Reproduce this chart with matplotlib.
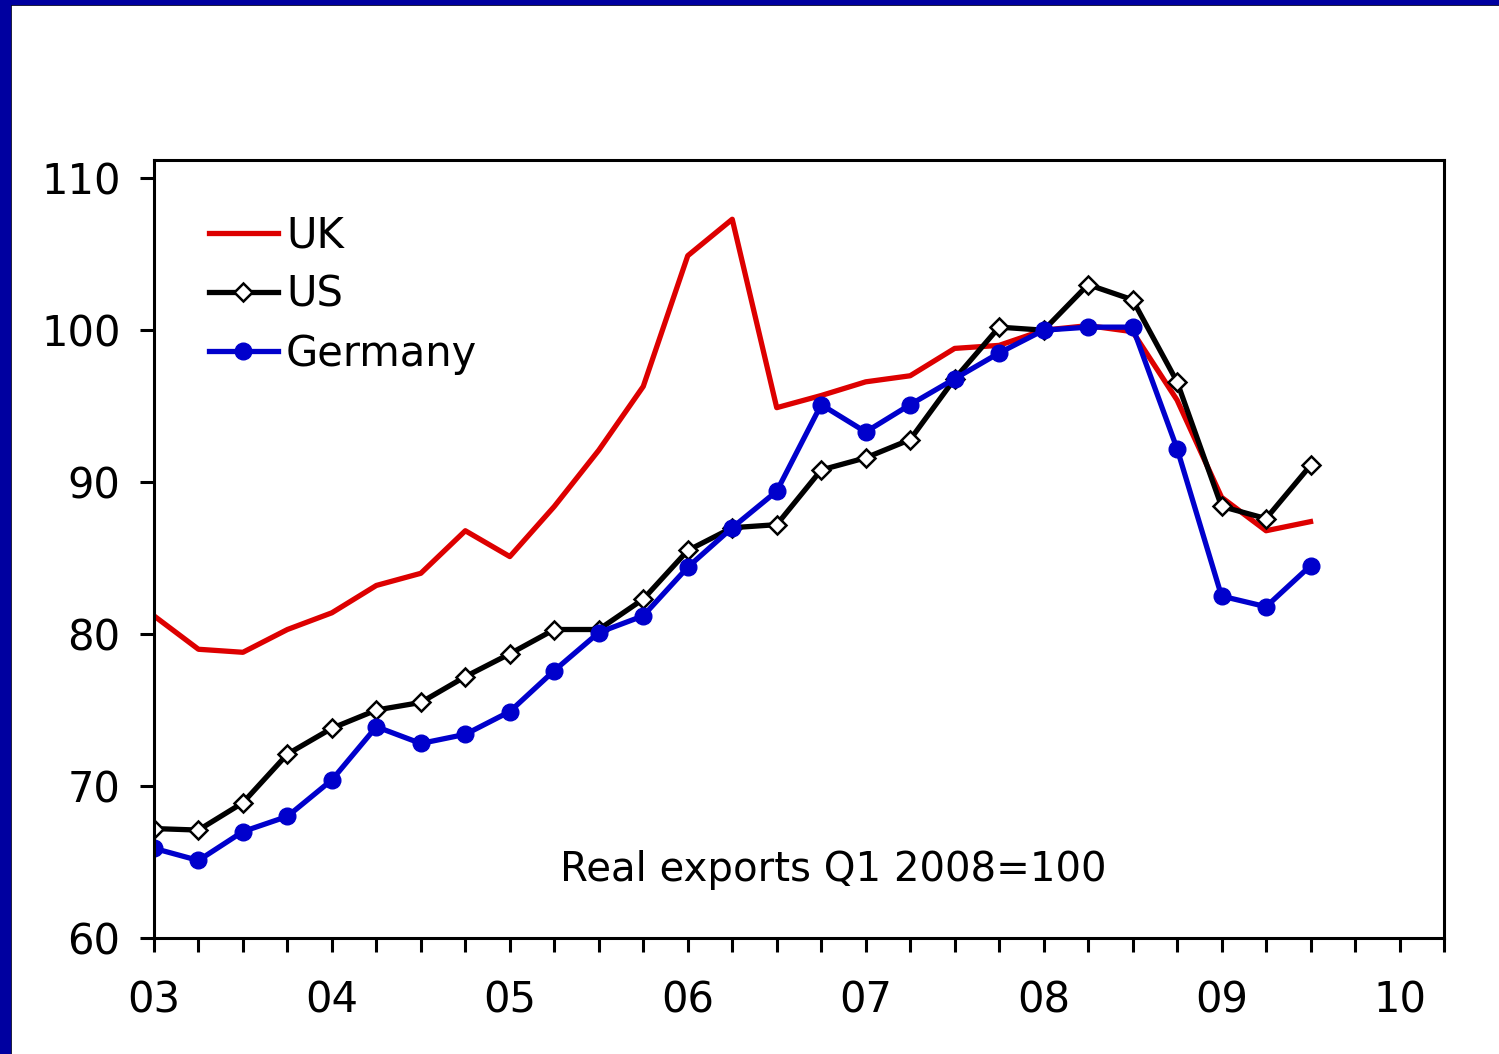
import numpy as np
import matplotlib.pyplot as plt
from matplotlib.patches import Rectangle

# quarterly index, 2003Q1 = 0
uk = [81.2, 79.0, 78.8, 80.3, 81.4, 83.2, 84.0, 86.8, 85.1, 88.4, 92.1, 96.3,
      104.9, 107.3, 94.9, 95.7, 96.6, 97.0, 98.8, 99.0, 100.0, 100.3, 99.9,
      95.4, 89.0, 86.8, 87.4]
us = [67.2, 67.1, 68.9, 72.1, 73.8, 75.0, 75.5, 77.2, 78.7, 80.3, 80.3, 82.3,
      85.5, 87.0, 87.2, 90.8, 91.6, 92.8, 96.8, 100.2, 100.0, 103.0, 102.0,
      96.6, 88.4, 87.6, 91.1]
germany = [65.9, 65.1, 67.0, 68.0, 70.4, 73.9, 72.8, 73.4, 74.9, 77.6, 80.1,
           81.2, 84.4, 87.0, 89.4, 95.1, 93.3, 95.1, 96.8, 98.5, 100.0, 100.2,
           100.2, 92.2, 82.5, 81.8, 84.5]
year_labels = ["03", "04", "05", "06", "07", "08", "09", "10"]

q = np.arange(len(uk))

fig = plt.figure(figsize=(14.99, 10.54), dpi=100)
ax = fig.add_axes([0.1027, 0.1101, 0.8606, 0.7381])

ax.plot(q, uk, color="#dd0000", lw=3.8, label="UK")
ax.plot(q, us, color="black", lw=3.8, marker="D", markersize=9,
        markerfacecolor="white", markeredgecolor="black", markeredgewidth=1.8,
        label="US")
ax.plot(q, germany, color="#0000cc", lw=3.8, marker="o", markersize=12,
        label="Germany")

ax.set_xlim(0, 29)
ax.set_ylim(60, 111.2)
ax.set_yticks(np.arange(60, 111, 10))
ax.set_xticks(np.arange(0, 30))
ax.set_xticklabels([year_labels[i // 4] if i % 4 == 0 else "" for i in range(30)])

for s in ax.spines.values():
    s.set_linewidth(2.2)
ax.tick_params(axis="both", direction="out", length=10, width=2.2,
               labelsize=30)
ax.tick_params(axis="x", pad=20)
ax.tick_params(axis="y", pad=14)

ax.legend(loc="upper left", bbox_to_anchor=(0.02, 0.967), frameon=False,
          fontsize=30, handlelength=1.65, handletextpad=0.2, labelspacing=0.41,
          borderaxespad=0.3)

ax.text(15.27, 64.5, "Real exports Q1 2008=100", fontsize=29,
        ha="center", va="center")

# slide frame
fig.patches.append(Rectangle((0, 0), 10 / 1499, 1, transform=fig.transFigure,
                             color="#0000a0", zorder=10))
fig.patches.append(Rectangle((0, 1 - 4 / 1054), 1, 4 / 1054,
                             transform=fig.transFigure, color="#0000a0", zorder=10))
fig.add_artist(plt.Line2D([11 / 1499, 11 / 1499], [0, 1 - 5 / 1054],
                          transform=fig.transFigure, color="black", lw=1.2))
fig.add_artist(plt.Line2D([11 / 1499, 1], [1 - 5 / 1054, 1 - 5 / 1054],
                          transform=fig.transFigure, color="black", lw=1.2))

fig.savefig("out.png", dpi=100)
